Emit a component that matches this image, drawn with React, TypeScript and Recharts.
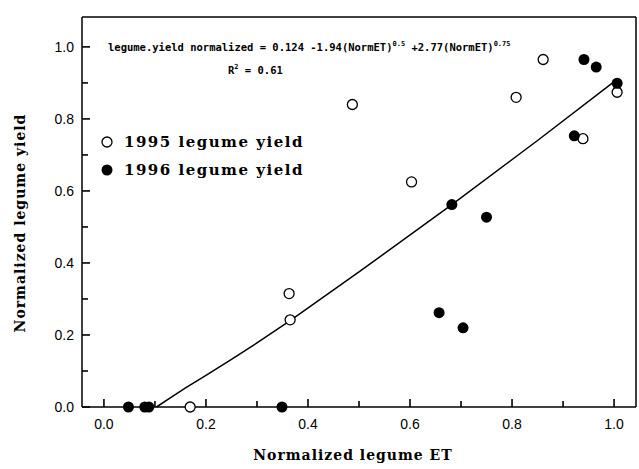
import React from 'react';
import { ScatterChart, Scatter, XAxis, YAxis, Legend } from 'recharts';

// 1995 legume yield (open circles)
const et1995 = [0.169, 0.363, 0.365, 0.487, 0.603, 0.808, 0.861, 0.939, 1.006];
const yield1995 = [0, 0.315, 0.242, 0.84, 0.625, 0.86, 0.965, 0.745, 0.874];

// 1996 legume yield (filled circles)
const et1996 = [0.048, 0.08, 0.088, 0.349, 0.657, 0.682, 0.704, 0.75, 0.922, 0.941, 0.965, 1.006];
const yield1996 = [0, 0, 0, 0, 0.262, 0.562, 0.22, 0.527, 0.753, 0.965, 0.944, 0.899];

// fitted curve
const fitEt = [0.103, 0.13, 0.16, 0.2, 0.25, 0.3, 0.365, 0.5, 0.682, 0.85, 1.006];
const fitYield = [0, 0.025, 0.053, 0.088, 0.132, 0.178, 0.24, 0.375, 0.562, 0.74, 0.91];

const ticks = [0, 0.1, 0.2, 0.3, 0.4, 0.5, 0.6, 0.7, 0.8, 0.9, 1.0];
const seriesNames = ['1995 legume yield', '1996 legume yield'];

const xDomain: [number, number] = [-0.043, 1.043];
const yDomain: [number, number] = [0, 1.083];

const toPoints = (xs: number[], ys: number[]) => xs.map((x, i) => ({ x, y: ys[i] }));

const titleFont = '"DejaVu Serif", serif';
const tickFont = '"Liberation Sans", Arial, sans-serif';

const isMajor = (v: number) => Math.round(v * 10) % 2 === 0;
const tickLen = (v: number) => (isMajor(v) ? 8 : 6);

// axis ticks drawn inward; x/y given by recharts sit on the axis line (tickSize 0, tickMargin 0)
const BottomTick = (props: any) => {
  const { x, y, payload } = props;
  const v = payload.value;
  return (
    <g>
      <path d={`M${x},${y}V${y - tickLen(v)}`} stroke="#000" strokeWidth={1.6} fill="none" />
      {isMajor(v) && (
        <text x={x} y={y + 22} textAnchor="middle" fontSize={14} fontFamily={tickFont} fill="#000">
          {v.toFixed(1)}
        </text>
      )}
    </g>
  );
};

const LeftTick = (props: any) => {
  const { x, y, payload } = props;
  const v = payload.value;
  return (
    <g>
      <path d={`M${x},${y}H${x + tickLen(v)}`} stroke="#000" strokeWidth={1.6} fill="none" />
      {isMajor(v) && (
        <text x={x - 8} y={y + 5} textAnchor="end" fontSize={14} fontFamily={tickFont} fill="#000">
          {v.toFixed(1)}
        </text>
      )}
    </g>
  );
};

const TopTick = (props: any) => {
  const { x, y, payload } = props;
  return <path d={`M${x},${y}V${y + tickLen(payload.value)}`} stroke="#000" strokeWidth={1.6} fill="none" />;
};

const RightTick = (props: any) => {
  const { x, y, payload } = props;
  return <path d={`M${x},${y}H${x - tickLen(payload.value)}`} stroke="#000" strokeWidth={1.6} fill="none" />;
};

const OpenDot = (props: any) => (
  <circle cx={props.cx} cy={props.cy} r={5} fill="#fff" stroke="#000" strokeWidth={1.3} />
);
const FilledDot = (props: any) => <circle cx={props.cx} cy={props.cy} r={5.5} fill="#000" />;
const NoDot = () => <g />;

const LegendBox = () => (
  <div style={{ fontFamily: titleFont, fontWeight: 'bold', fontSize: 15, letterSpacing: 1.5 }}>
    {seriesNames.map((name, i) => (
      <div key={name} style={{ display: 'flex', alignItems: 'center', height: 28 }}>
        <svg width={14} height={14} style={{ marginRight: 10 }}>
          {i === 0 ? (
            <circle cx={7} cy={7} r={5} fill="#fff" stroke="#000" strokeWidth={1.3} />
          ) : (
            <circle cx={7} cy={7} r={5.5} fill="#000" />
          )}
        </svg>
        <span>{name}</span>
      </div>
    ))}
  </div>
);

const axisLine = { stroke: '#000', strokeWidth: 1.5 };

export default function App() {
  return (
    <div style={{ position: 'absolute', left: 0, top: 0, width: 639, height: 469, background: '#fff' }}>
      <ScatterChart width={639} height={469} margin={{ top: 16, right: 2, bottom: 61, left: 81 }}>
        <XAxis
          type="number"
          dataKey="x"
          domain={xDomain}
          ticks={ticks}
          tick={BottomTick}
          tickLine={false}
          tickSize={0}
          tickMargin={0}
          height={1}
          axisLine={axisLine}
          interval={0}
        />
        <XAxis
          xAxisId="top"
          orientation="top"
          type="number"
          dataKey="x"
          domain={xDomain}
          ticks={ticks}
          tick={TopTick}
          tickLine={false}
          tickSize={0}
          tickMargin={0}
          height={1}
          axisLine={axisLine}
          interval={0}
        />
        <YAxis
          type="number"
          dataKey="y"
          domain={yDomain}
          ticks={ticks}
          tick={LeftTick}
          tickLine={false}
          tickSize={0}
          tickMargin={0}
          width={1}
          axisLine={axisLine}
          interval={0}
        />
        <YAxis
          yAxisId="right"
          orientation="right"
          type="number"
          dataKey="y"
          domain={yDomain}
          ticks={ticks}
          tick={RightTick}
          tickLine={false}
          tickSize={0}
          tickMargin={0}
          width={1}
          axisLine={axisLine}
          interval={0}
        />
        <Legend
          verticalAlign="middle"
          align="center"
          layout="vertical"
          content={<LegendBox />}
          wrapperStyle={{ position: 'absolute', left: 100, top: 128, width: 260 }}
        />
        <Scatter
          name="fit"
          data={toPoints(fitEt, fitYield)}
          line={{ stroke: '#000', strokeWidth: 1.5 }}
          lineType="joint"
          shape={<NoDot />}
          legendType="none"
          isAnimationActive={false}
        />
        <Scatter
          name={seriesNames[0]}
          data={toPoints(et1995, yield1995)}
          shape={<OpenDot />}
          isAnimationActive={false}
        />
        <Scatter
          name={seriesNames[1]}
          data={toPoints(et1996, yield1996)}
          shape={<FilledDot />}
          isAnimationActive={false}
        />
        <Scatter xAxisId="top" yAxisId="right" data={[]} legendType="none" isAnimationActive={false} />
      </ScatterChart>

      <div
        style={{
          position: 'absolute',
          left: 108,
          top: 37,
          fontFamily: '"DejaVu Sans Mono", monospace',
          fontWeight: 'bold',
          fontSize: 10.5,
          whiteSpace: 'nowrap',
          lineHeight: '14px',
        }}
      >
        legume.yield normalized = 0.124 -1.94(NormET)<sup style={{ fontSize: 7 }}>0.5</sup> +2.77(NormET)
        <sup style={{ fontSize: 7 }}>0.75</sup>
      </div>
      <div
        style={{
          position: 'absolute',
          left: 228,
          top: 60,
          fontFamily: '"DejaVu Sans Mono", monospace',
          fontWeight: 'bold',
          fontSize: 10.5,
          whiteSpace: 'nowrap',
          lineHeight: '14px',
        }}
      >
        R<sup style={{ fontSize: 7 }}>2</sup> = 0.61
      </div>

      <div
        style={{
          position: 'absolute',
          left: 253,
          top: 447,
          width: 200,
          textAlign: 'center',
          fontFamily: titleFont,
          fontWeight: 'bold',
          fontSize: 14,
          letterSpacing: 1,
          whiteSpace: 'nowrap',
        }}
      >
        Normalized legume ET
      </div>
      <div
        style={{
          position: 'absolute',
          left: 20,
          top: 223,
          transform: 'translate(-50%, -50%) rotate(-90deg)',
          fontFamily: titleFont,
          fontWeight: 'bold',
          fontSize: 14,
          letterSpacing: 1,
          whiteSpace: 'nowrap',
        }}
      >
        Normalized legume yield
      </div>
    </div>
  );
}
